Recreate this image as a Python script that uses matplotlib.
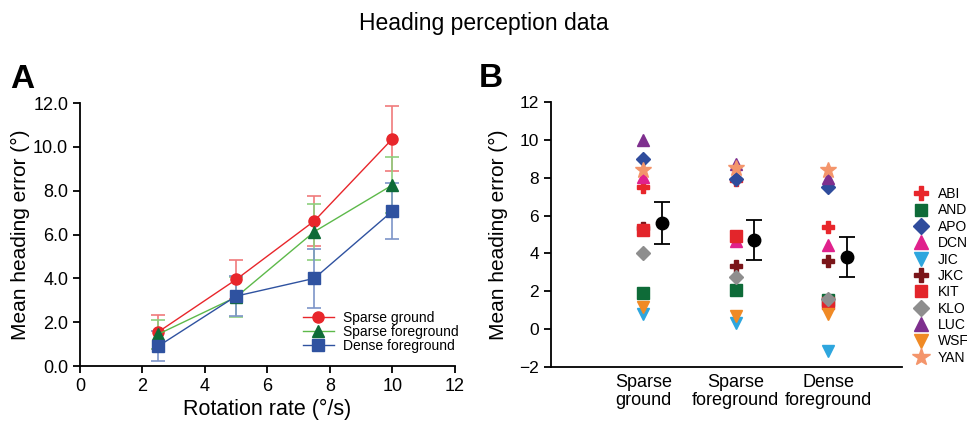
import matplotlib.pyplot as plt
import numpy as np

plt.rcParams['font.family'] = ['Liberation Sans', 'DejaVu Sans']

# Panel A data
rates = [2.5, 5, 7.5, 10]
sg_mean = [1.55, 3.95, 6.62, 10.37]
sg_err = [0.77, 0.88, 1.14, 1.48]
sf_mean = [1.45, 3.15, 6.13, 8.26]
sf_err = [0.67, 0.9, 1.27, 1.27]
df_mean = [0.90, 3.19, 4.00, 7.07]
df_err = [0.69, 0.92, 1.33, 1.28]

# Panel B data
conditions = ['Sparse\nground', 'Sparse\nforeground', 'Dense\nforeground']
observers = ['ABI', 'AND', 'APO', 'DCN', 'JIC', 'JKC', 'KIT', 'KLO', 'LUC', 'WSF', 'YAN']
obs_values = {
    'ABI': [7.52, 7.85, 5.38],
    'AND': [1.90, 2.10, 1.55],
    'APO': [9.00, 7.90, 7.52],
    'DCN': [8.05, 4.66, 4.45],
    'JIC': [0.81, 0.32, -1.14],
    'JKC': [5.35, 3.36, 3.58],
    'KIT': [5.24, 4.94, 1.37],
    'KLO': [4.04, 2.74, 1.62],
    'LUC': [10.0, 8.70, 8.00],
    'WSF': [1.20, 0.72, 0.81],
    'YAN': [8.40, 8.50, 8.40],
}
group_mean = [5.60, 4.72, 3.80]
group_err = [1.10, 1.05, 1.05]

obs_style = {
    'ABI': ('P', '#E8262B', 9),
    'AND': ('s', '#0E6B38', 8),
    'APO': ('D', '#2F4C9C', 7),
    'DCN': ('^', '#E0218C', 9),
    'JIC': ('v', '#2EA6DE', 9),
    'JKC': ('P', '#7A1519', 9),
    'KIT': ('s', '#E3252B', 8),
    'KLO': ('D', '#8E8E8E', 7),
    'LUC': ('^', '#7E2F8E', 9),
    'WSF': ('v', '#F08A25', 9),
    'YAN': ('*', '#F4956B', 12),
}

fig = plt.figure(figsize=(9.67, 4.21), dpi=100)
fig.text(0.5, 0.945, 'Heading perception data', ha='center', va='center', fontsize=16.5)

# ---- A ----
ax = fig.add_axes([0.0827, 0.1306, 0.3878, 0.6247])
series = [
    (sg_mean, sg_err, 'Sparse ground', 'o', '#E8262B', '#E8262B', '#F07A7C'),
    (sf_mean, sf_err, 'Sparse foreground', '^', '#5DB94A', '#0E6B38', '#8ECF7E'),
    (df_mean, df_err, 'Dense foreground', 's', '#2F52A0', '#2F52A0', '#7D95C8'),
]
for m, e, lab, mk, lc, fc, ec in series:
    ax.errorbar(rates, m, yerr=e, fmt='none', ecolor=ec, elinewidth=1.2, capsize=5, capthick=1.2, zorder=2)
    ax.plot(rates, m, color=lc, lw=1.0, marker=mk, markersize=8, markerfacecolor=fc,
            markeredgecolor=fc, label=lab, zorder=3)
ax.set_xlim(0, 12)
ax.set_ylim(0, 12)
ax.set_xticks(np.arange(0, 13, 2))
ax.set_yticks(np.arange(0, 12.1, 2))
ax.set_yticklabels(['%.1f' % v for v in np.arange(0, 12.1, 2)])
ax.set_xlabel('Rotation rate (°/s)', fontsize=15.5, labelpad=3)
ax.set_ylabel('Mean heading error (°)', fontsize=15, labelpad=2)
for s in ['top', 'right']:
    ax.spines[s].set_visible(False)
for s in ['left', 'bottom']:
    ax.spines[s].set_linewidth(1.3)
ax.tick_params(labelsize=13, width=1.3, length=5)
leg = ax.legend(loc='upper left', frameon=False, fontsize=10, handlelength=2.2,
                borderaxespad=0.0, borderpad=0.0, labelspacing=0.0, handletextpad=0.7,
                bbox_to_anchor=(0.595, 0.21))
ax.text(-0.185, 1.03, 'A', transform=ax.transAxes, fontsize=24, fontweight='bold', va='bottom')

# ---- B ----
bx = fig.add_axes([0.5698, 0.1276, 0.363, 0.6308])
xpos = np.arange(1, len(conditions) + 1)
for name in observers:
    mk, col, sz = obs_style[name]
    bx.plot(xpos, obs_values[name], linestyle='none', marker=mk, color=col,
            markersize=sz, markeredgecolor=col, label=name, clip_on=False)
bx.errorbar(xpos + 0.2, group_mean, yerr=group_err, fmt='o', color='black',
            markersize=9, capsize=6, elinewidth=1.3, capthick=1.3)
bx.set_xlim(0, 3.8)
bx.set_ylim(-2, 12)
bx.set_yticks(np.arange(-2, 13, 2))
bx.set_xticks(xpos)
bx.set_xticklabels(conditions, fontsize=13, linespacing=1.05)
bx.tick_params(axis='x', length=0, pad=5)
bx.tick_params(axis='y', labelsize=12.5, width=1.3, length=5)
bx.set_ylabel('Mean heading error (°)', fontsize=15, labelpad=8)
for s in ['top', 'right']:
    bx.spines[s].set_visible(False)
for s in ['left', 'bottom']:
    bx.spines[s].set_linewidth(1.3)
bx.legend(loc='center left', bbox_to_anchor=(1.03, 0.344), frameon=False, fontsize=10,
          handletextpad=0.6, labelspacing=0.17, borderaxespad=0.0, borderpad=0.0,
          handlelength=1.2, markerscale=1.1)
bx.text(-0.205, 1.03, 'B', transform=bx.transAxes, fontsize=24, fontweight='bold', va='bottom')

fig.savefig('out.png', dpi=100)
